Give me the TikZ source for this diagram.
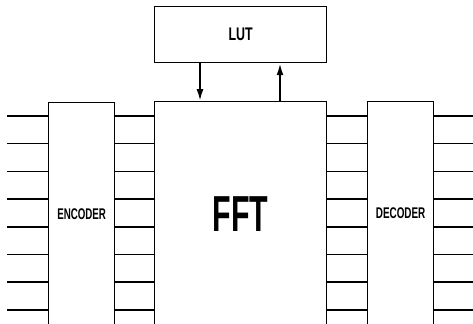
\documentclass[tikz,border=0pt]{standalone}
\usepackage{fontspec}
\setmainfont{Liberation Sans}
\usepackage{graphicx}
\usetikzlibrary{arrows.meta,calc,positioning}
\newcommand{\narrow}[2]{\scalebox{#1}[1]{#2}}
\tikzset{
  block/.style={draw, line width=0.9pt, inner sep=0pt, anchor=north west, font=\bfseries},
  wire/.style={line width=1.1pt},
  flow/.style={line width=1.4pt, -{Latex[length=8.5pt,width=5pt]}}
}

\begin{document}
\begin{tikzpicture}[x=0.025cm,y=-0.025cm]
\useasboundingbox (0,0) rectangle (473,323);
% blocks (pixel grid, y downwards)
\node[block,minimum width=4.3cm,minimum height=1.4cm] (lut) at (154,6)
  {\fontsize{13}{15}\selectfont\narrow{0.68}{LUT}};
\node[block,minimum width=4.3cm,minimum height=5.6cm] (fft) at (154,101)
  {\fontsize{36}{40}\selectfont\narrow{0.6}{FFT}};
\node[block,minimum width=1.65cm,minimum height=5.575cm] (enc) at (48,102)
  {\fontsize{11}{13}\selectfont\narrow{0.63}{ENCODER}};
\node[block,minimum width=1.65cm,minimum height=5.6cm] (dec) at (367,101)
  {\fontsize{11}{13}\selectfont\narrow{0.64}{DECODER}};
% lut <-> fft
\draw[flow] (200,0 |- lut.south) -- (200,0 |- fft.north);
\draw[flow] (280,0 |- fft.north) -- (280,0 |- lut.south);
% eight lines on each side
\foreach \i in {0,...,7}{
  \pgfmathsetmacro{\yy}{116+27.7*\i}
  \coordinate (in\i) at (7,\yy);
  \coordinate (out\i) at (473,\yy);
  \draw[wire] (in\i) -- (in\i -| enc.west);
  \draw[wire] (in\i -| enc.east) -- (in\i -| fft.west);
  \draw[wire] (in\i -| fft.east) -- (in\i -| dec.west);
  \draw[wire] (in\i -| dec.east) -- (out\i);
}
\end{tikzpicture}
\end{document}
